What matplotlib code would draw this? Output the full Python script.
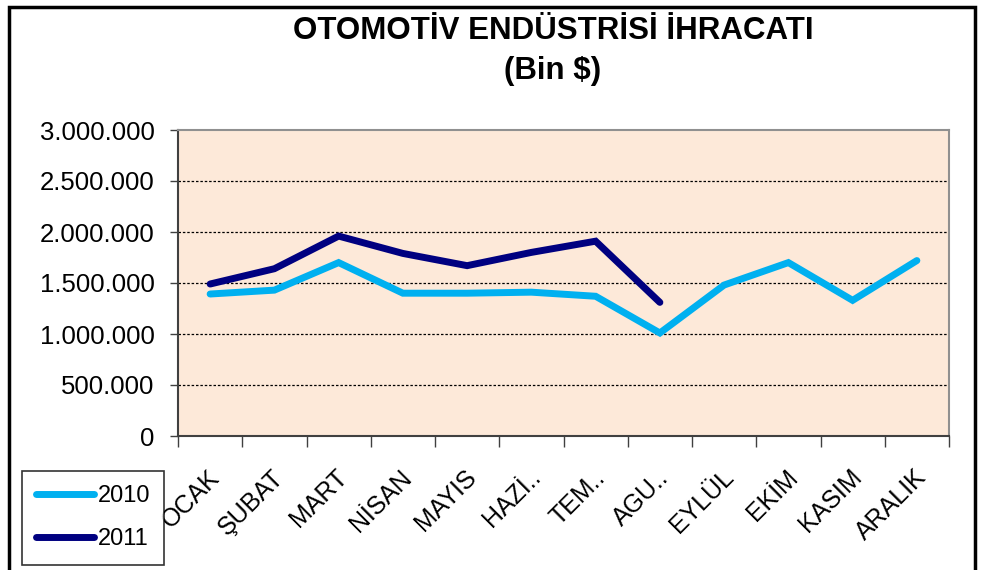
import matplotlib
matplotlib.use("Agg")
import matplotlib.pyplot as plt
from matplotlib.patches import Rectangle
from matplotlib.ticker import FuncFormatter, FixedLocator
from matplotlib.transforms import ScaledTranslation

months = ["OCAK", "ŞUBAT", "MART", "NİSAN", "MAYIS", "HAZİ..", "TEM..",
          "AGU..", "EYLÜL", "EKİM", "KASIM", "ARALIK"]
v2010 = [1392000, 1430000, 1700000, 1400000, 1400000, 1410000, 1370000,
         1010000, 1480000, 1700000, 1330000, 1720000]
v2011 = [1490000, 1640000, 1960000, 1790000, 1670000, 1800000, 1910000,
         1310000]
yticks = [0, 500000, 1000000, 1500000, 2000000, 2500000, 3000000]

plt.rcParams['font.family'] = ['Liberation Sans', 'DejaVu Sans']

fig = plt.figure(figsize=(9.83, 5.70), dpi=100)
fig.patch.set_facecolor('white')
W, H = 983, 570
ax = fig.add_axes([178 / W, 1 - 436 / H, (949 - 178) / W, (436 - 130) / H])
ax.set_facecolor('#FDE9D9')

x10 = list(range(len(v2010)))
x11 = list(range(len(v2011)))
l1, = ax.plot(x10, v2010, color='#00B0F0', lw=5, solid_joinstyle='miter',
              solid_capstyle='round', label='2010', zorder=3)
l2, = ax.plot(x11, v2011, color='#000080', lw=5, solid_joinstyle='miter',
              solid_capstyle='round', label='2011', zorder=4)

ax.set_xlim(-0.5, len(months) - 0.5)
ax.set_ylim(0, 3000000)
ax.yaxis.set_major_locator(FixedLocator(yticks))
ax.yaxis.set_major_formatter(FuncFormatter(lambda v, p: f"{int(v):,}".replace(",", ".")))
for y in yticks[1:-1]:
    ax.axhline(y, color='black', lw=0.9, ls=(0, (2, 1.5)), zorder=1)

ax.xaxis.set_major_locator(FixedLocator([i - 0.5 for i in range(len(months) + 1)]))
ax.xaxis.set_minor_locator(FixedLocator(list(range(len(months)))))
ax.set_xticklabels([])
ax.set_xticklabels(months, minor=True, rotation=45, ha='right', va='top',
                   rotation_mode='anchor', fontsize=18)
ax.tick_params(axis='x', which='minor', length=0, pad=21)
offset = ScaledTranslation(-3 / 100, 0, fig.dpi_scale_trans)
for lbl in ax.xaxis.get_minorticklabels():
    lbl.set_transform(lbl.get_transform() + offset)
ax.tick_params(axis='x', which='major', length=8, width=1, color='#404040')
ax.tick_params(axis='y', length=6, width=1, color='#404040', labelsize=18.5, pad=11)

for side in ['left', 'bottom']:
    ax.spines[side].set_color('#404040')
    ax.spines[side].set_linewidth(1.5)
for side in ['top', 'right']:
    ax.spines[side].set_color('#909090')
    ax.spines[side].set_linewidth(1.5)

fig.text(553 / W, 1 - 31 / H, "OTOMOTİV ENDÜSTRİSİ İHRACATI", ha='center', va='center',
         fontsize=22.5, fontweight='bold')
fig.text(553 / W, 1 - 71 / H, "(Bin $)", ha='center', va='center',
         fontsize=22.5, fontweight='bold')

leg = fig.legend(handles=[l1, l2], loc='upper left',
                 bbox_to_anchor=(22 / W, 1 - 471 / H), frameon=True, fancybox=False,
                 fontsize=17, handlelength=2.45, handletextpad=0.15, labelspacing=0.9,
                 borderpad=0.6, borderaxespad=0)
leg.get_frame().set_edgecolor('black')
leg.get_frame().set_linewidth(1.2)

# outer chart frame
fig.patches.append(Rectangle((9 / W, -0.05), (975 - 9) / W, 1 - 7 / H + 0.05,
                             transform=fig.transFigure, fill=False,
                             edgecolor='black', lw=2.5))

fig.savefig('out.png', dpi=100)
